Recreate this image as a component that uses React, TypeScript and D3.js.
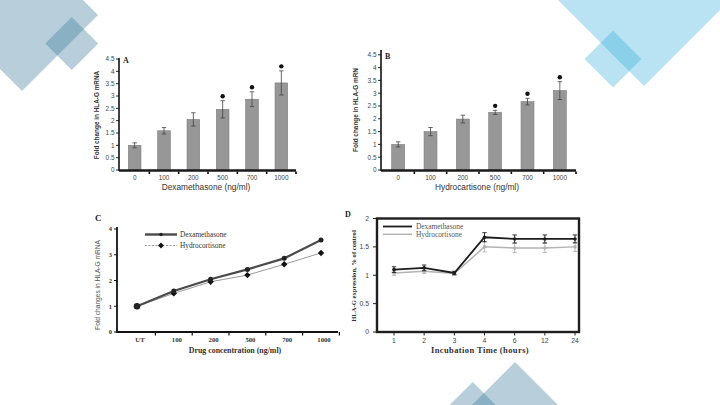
import * as d3 from "d3";
import { useEffect, useRef } from "react";

// Panels A & B: fold change of HLA-G mRNA per dose
const doses = ["0", "100", "200", "500", "700", "1000"];
const dexaFold = [1.0, 1.59, 2.05, 2.46, 2.87, 3.53];
const dexaFoldErr = [0.1, 0.13, 0.27, 0.35, 0.3, 0.49];
const dexaSignif = [false, false, false, true, true, true];
const hydroFold = [1.0, 1.5, 1.99, 2.25, 2.67, 3.1];
const hydroFoldErr = [0.1, 0.16, 0.15, 0.08, 0.13, 0.35];
const hydroSignif = [false, false, false, true, true, true];
const foldTicks = [0, 0.5, 1, 1.5, 2, 2.5, 3, 3.5, 4, 4.5];

// Panel C: both drugs on one line chart
const concLabels = ["UT", "100", "200", "500", "700", "1000"];
const dexaLine = [1.0, 1.59, 2.05, 2.43, 2.86, 3.57];
const hydroLine = [1.0, 1.5, 1.95, 2.21, 2.63, 3.07];
const concTicks = [0, 1, 2, 3, 4];

// Panel D: expression over incubation time
const hours = ["1", "2", "3", "4", "6", "12", "24"];
const dexaTime = [1.1, 1.13, 1.04, 1.67, 1.64, 1.64, 1.64];
const dexaTimeErr = [0.05, 0.05, 0.03, 0.08, 0.07, 0.07, 0.07];
const hydroTime = [1.04, 1.07, 1.03, 1.5, 1.48, 1.48, 1.5];
const hydroTimeErr = [0.04, 0.04, 0.03, 0.09, 0.08, 0.08, 0.08];
const timeTicks = [0, 0.5, 1, 1.5, 2];

const SANS = "'Liberation Sans', Arial, sans-serif";
const SERIF = "'Liberation Serif', 'Times New Roman', serif";

const diamond = (cx: number, cy: number, r: number) =>
    `M${cx},${cy - r}L${cx + r},${cy}L${cx},${cy + r}L${cx - r},${cy}Z`;

function barPanel(svg: any, o: any) {
    const x = d3
        .scaleBand()
        .domain(doses)
        .range([o.x0, o.x1])
        .paddingInner(o.pad)
        .paddingOuter(o.pad / 2);
    const y = d3.scaleLinear().domain([0, 4.5]).range([o.base, o.top]);
    const axisX = o.x0 - 1;
    const g = svg.append("g");

    // bars
    g.selectAll(".bar")
        .data(o.values)
        .enter()
        .append("rect")
        .attr("x", (_: any, i: number) => x(doses[i]))
        .attr("y", (d: number) => y(d))
        .attr("width", x.bandwidth())
        .attr("height", (d: number) => y(0) - y(d))
        .attr("fill", "#979797")
        .attr("stroke", "#7c7c7c")
        .attr("stroke-width", 0.6);

    // error bars + significance marks
    o.values.forEach((v: number, i: number) => {
        const cx = (x(doses[i]) || 0) + x.bandwidth() / 2;
        const e = o.errs[i];
        g.append("line")
            .attr("x1", cx).attr("x2", cx)
            .attr("y1", y(v - e)).attr("y2", y(v + e))
            .attr("stroke", "#444").attr("stroke-width", 0.8);
        [v - e, v + e].forEach(t => {
            g.append("line")
                .attr("x1", cx - 2.2).attr("x2", cx + 2.2)
                .attr("y1", y(t)).attr("y2", y(t))
                .attr("stroke", "#444").attr("stroke-width", 0.8);
        });
        if (o.signif[i]) {
            g.append("circle")
                .attr("cx", cx)
                .attr("cy", y(v + e) - 4.5)
                .attr("r", 2.2)
                .attr("fill", "#111");
        }
    });

    // y axis
    g.append("line")
        .attr("x1", axisX).attr("x2", axisX)
        .attr("y1", o.base + 1).attr("y2", o.axisTop)
        .attr("stroke", "#111").attr("stroke-width", 1.6);
    foldTicks.forEach(t => {
        g.append("line")
            .attr("x1", axisX - 3).attr("x2", axisX)
            .attr("y1", y(t)).attr("y2", y(t))
            .attr("stroke", "#111").attr("stroke-width", 0.9);
        g.append("text")
            .attr("x", axisX - 4.5)
            .attr("y", y(t) + 2.3)
            .attr("text-anchor", "end")
            .style("font", `6.4px ${SANS}`)
            .attr("fill", "#444")
            .text(d3.format("")(t));
    });

    // x axis
    g.append("line")
        .attr("x1", axisX).attr("x2", o.x1)
        .attr("y1", o.base + 0.5).attr("y2", o.base + 0.5)
        .attr("stroke", "#1a1a1a").attr("stroke-width", 2.4);
    const step = x.step();
    doses.forEach((d, i) => {
        g.append("rect")
            .attr("x", o.x0 + (i + 1) * step - 0.8)
            .attr("y", o.base + 1.5)
            .attr("width", 1.6)
            .attr("height", 2.5)
            .attr("fill", "#111");
        g.append("text")
            .attr("x", (x(d) || 0) + x.bandwidth() / 2)
            .attr("y", o.base + 9.5)
            .attr("text-anchor", "middle")
            .style("font", `6.4px ${SANS}`)
            .attr("fill", "#444")
            .text(d);
    });

    g.append("text")
        .attr("x", (o.x0 + o.x1) / 2 - 2)
        .attr("y", o.base + 20)
        .attr("text-anchor", "middle")
        .style("font", `8.3px ${SANS}`)
        .attr("fill", "#333")
        .text(o.xLabel);

    g.append("text")
        .attr("transform", `translate(${o.yLabelX},${o.yLabelY}) rotate(-90)`)
        .attr("text-anchor", "middle")
        .style("font", `bold 6.4px ${SANS}`)
        .attr("fill", "#333")
        .text(o.yLabel);

    g.append("text")
        .attr("x", axisX + 4)
        .attr("y", o.top + 4)
        .style("font", `bold 8px ${SERIF}`)
        .attr("fill", "#222")
        .text(o.letter);
}

function linePanel(svg: any) {
    const x = d3.scalePoint().domain(concLabels).range([137, 321]);
    const y = d3.scaleLinear().domain([0, 4]).range([332, 229]);
    const g = svg.append("g");
    const axisX = 117;

    g.append("line")
        .attr("x1", axisX).attr("x2", axisX).attr("y1", 333).attr("y2", 227)
        .attr("stroke", "#111").attr("stroke-width", 1.8);
    g.append("line")
        .attr("x1", axisX).attr("x2", 338).attr("y1", 332).attr("y2", 332)
        .attr("stroke", "#111").attr("stroke-width", 1.8);

    concTicks.forEach(t => {
        g.append("line")
            .attr("x1", axisX - 3).attr("x2", axisX)
            .attr("y1", y(t)).attr("y2", y(t))
            .attr("stroke", "#111").attr("stroke-width", 1);
        g.append("text")
            .attr("x", axisX - 5)
            .attr("y", y(t) + 2.3)
            .attr("text-anchor", "end")
            .style("font", `bold 6.5px ${SERIF}`)
            .attr("fill", "#333")
            .text(t);
    });
    const step = x.step();
    concLabels.forEach(c => {
        const px = x(c) || 0;
        g.append("line")
            .attr("x1", px + step / 2).attr("x2", px + step / 2)
            .attr("y1", 332).attr("y2", 335.5)
            .attr("stroke", "#111").attr("stroke-width", 1.2);
        g.append("text")
            .attr("x", px + 3)
            .attr("y", 342)
            .attr("text-anchor", "middle")
            .style("font", `bold 6.7px ${SERIF}`)
            .attr("fill", "#333")
            .text(c);
    });

    const line = d3
        .line<number>()
        .x((_, i) => x(concLabels[i]) || 0)
        .y(d => y(d));

    g.append("path")
        .attr("d", line(hydroLine))
        .attr("fill", "none")
        .attr("stroke", "#9a9a9a")
        .attr("stroke-width", 1);
    g.append("path")
        .attr("d", line(dexaLine))
        .attr("fill", "none")
        .attr("stroke", "#4a4a4a")
        .attr("stroke-width", 2.2);

    hydroLine.forEach((v, i) => {
        const px = x(concLabels[i]) || 0;
        g.append("path")
            .attr("d", diamond(px, y(v), 3.2))
            .attr("fill", "#111");
    });
    dexaLine.forEach((v, i) => {
        g.append("circle")
            .attr("cx", x(concLabels[i]) || 0)
            .attr("cy", y(v))
            .attr("r", i === 0 ? 3.3 : 2.5)
            .attr("fill", "#222");
    });

    // legend
    g.append("line")
        .attr("x1", 145).attr("x2", 177).attr("y1", 234.5).attr("y2", 234.5)
        .attr("stroke", "#4a4a4a").attr("stroke-width", 2.4);
    g.append("circle").attr("cx", 161).attr("cy", 234.5).attr("r", 1.8).attr("fill", "#222");
    g.append("line")
        .attr("x1", 145).attr("x2", 177).attr("y1", 245.5).attr("y2", 245.5)
        .attr("stroke", "#999").attr("stroke-width", 1)
        .attr("stroke-dasharray", "2,1.5");
    g.append("path").attr("d", diamond(161, 245.5, 3)).attr("fill", "#111");
    [["Dexamethasone", 237], ["Hydrocortisone", 248]].forEach(([t, ty]) => {
        g.append("text")
            .attr("x", 180)
            .attr("y", ty)
            .style("font", `7.3px ${SERIF}`)
            .attr("fill", "#333")
            .text(t);
    });

    g.append("text")
        .attr("transform", "translate(100,285) rotate(-90)")
        .attr("text-anchor", "middle")
        .style("font", `6.6px ${SANS}`)
        .attr("fill", "#555")
        .text("Fold changes in HLA-G mRNA");
    g.append("text")
        .attr("x", 235)
        .attr("y", 353)
        .attr("text-anchor", "middle")
        .style("font", `bold 7.9px ${SERIF}`)
        .attr("fill", "#333")
        .text("Drug concentration (ng/ml)");
    g.append("text")
        .attr("x", 95)
        .attr("y", 221)
        .style("font", `bold 9px ${SERIF}`)
        .attr("fill", "#222")
        .text("C");
}

function timePanel(svg: any) {
    const x = d3.scalePoint().domain(hours).range([394, 575]);
    const y = d3.scaleLinear().domain([0, 2]).range([332, 218.5]);
    const g = svg.append("g");

    timeTicks.forEach(t => {
        g.append("line")
            .attr("x1", 373).attr("x2", 377)
            .attr("y1", y(t)).attr("y2", y(t))
            .attr("stroke", "#222").attr("stroke-width", 1);
        g.append("text")
            .attr("x", 369)
            .attr("y", y(t) + 2.4)
            .attr("text-anchor", "end")
            .style("font", `6.8px ${SANS}`)
            .attr("fill", "#444")
            .text(d3.format("")(t));
    });
    hours.forEach(h => {
        const px = x(h) || 0;
        g.append("line")
            .attr("x1", px).attr("x2", px).attr("y1", 332).attr("y2", 335.5)
            .attr("stroke", "#222").attr("stroke-width", 1);
        g.append("text")
            .attr("x", px)
            .attr("y", 342.5)
            .attr("text-anchor", "middle")
            .style("font", `6.8px ${SANS}`)
            .attr("fill", "#444")
            .text(h);
    });

    const line = d3
        .line<number>()
        .x((_, i) => x(hours[i]) || 0)
        .y(d => y(d));

    const series = [
        { vals: hydroTime, errs: hydroTimeErr, color: "#b3b3b3", w: 1.5 },
        { vals: dexaTime, errs: dexaTimeErr, color: "#1c1c1c", w: 1.8 },
    ];
    series.forEach(s => {
        g.append("path")
            .attr("d", line(s.vals))
            .attr("fill", "none")
            .attr("stroke", s.color)
            .attr("stroke-width", s.w);
        s.vals.forEach((v, i) => {
            const px = x(hours[i]) || 0;
            g.append("line")
                .attr("x1", px).attr("x2", px)
                .attr("y1", y(v - s.errs[i])).attr("y2", y(v + s.errs[i]))
                .attr("stroke", s.color).attr("stroke-width", 0.9);
            [v - s.errs[i], v + s.errs[i]].forEach(t => {
                g.append("line")
                    .attr("x1", px - 2.2).attr("x2", px + 2.2)
                    .attr("y1", y(t)).attr("y2", y(t))
                    .attr("stroke", s.color).attr("stroke-width", 0.9);
            });
            g.append("circle")
                .attr("cx", px)
                .attr("cy", y(v))
                .attr("r", 1.8)
                .attr("fill", s.color);
        });
    });

    // frame
    g.append("rect")
        .attr("x", 377).attr("y", 218.5)
        .attr("width", 202).attr("height", 113.5)
        .attr("fill", "none")
        .attr("stroke", "#1e1e1e")
        .attr("stroke-width", 2.4);

    // legend
    g.append("line")
        .attr("x1", 383).attr("x2", 412).attr("y1", 226.5).attr("y2", 226.5)
        .attr("stroke", "#1c1c1c").attr("stroke-width", 1.8);
    g.append("line")
        .attr("x1", 383).attr("x2", 412).attr("y1", 234.3).attr("y2", 234.3)
        .attr("stroke", "#b3b3b3").attr("stroke-width", 1.5);
    [["Dexamethasone", 229], ["Hydrocortisone", 236.8]].forEach(([t, ty]) => {
        g.append("text")
            .attr("x", 416)
            .attr("y", ty)
            .style("font", `7.4px ${SERIF}`)
            .attr("fill", "#555")
            .text(t);
    });

    g.append("text")
        .attr("transform", "translate(356,276) rotate(-90)")
        .attr("text-anchor", "middle")
        .style("font", `bold 6.6px ${SERIF}`)
        .attr("fill", "#333")
        .text("HLA-G expression, % of control");
    g.append("text")
        .attr("x", 480)
        .attr("y", 353)
        .attr("text-anchor", "middle")
        .style("font", `bold 8.5px ${SERIF}`)
        .style("letter-spacing", "0.4px")
        .attr("fill", "#333")
        .text("Incubation Time (hours)");
    g.append("text")
        .attr("x", 345)
        .attr("y", 217)
        .style("font", `bold 8px ${SERIF}`)
        .attr("fill", "#222")
        .text("D");
}

export default function App() {
    const ref = useRef<SVGSVGElement>(null);

    useEffect(() => {
        const svg = d3.select(ref.current);
        svg.selectAll("*").remove();

        svg.append("rect").attr("width", 720).attr("height", 405).attr("fill", "#fff");

        // corner diamonds
        const slate = "rgb(52,118,152)";
        const sky = "#29a9d9";
        [
            { cx: 22, cy: 15, r: 76, fill: slate, op: 0.35 },
            { cx: 71.7, cy: 43.5, r: 26.5, fill: slate, op: 0.35 },
            { cx: 644, cy: -5, r: 91, fill: sky, op: 0.33 },
            { cx: 613, cy: 59, r: 28.5, fill: sky, op: 0.33 },
            { cx: 515, cy: 422, r: 60, fill: slate, op: 0.35 },
            { cx: 472.7, cy: 422, r: 40, fill: slate, op: 0.35 },
        ].forEach(d => {
            svg.append("path")
                .attr("d", diamond(d.cx, d.cy, d.r))
                .attr("fill", d.fill)
                .attr("fill-opacity", d.op);
        });

        barPanel(svg, {
            values: dexaFold, errs: dexaFoldErr, signif: dexaSignif,
            x0: 120, x1: 296, pad: 0.57, base: 170, top: 59, axisTop: 58,
            xLabel: "Dexamethasone (ng/ml)",
            yLabel: "Fold change in HLA-G mRNA", yLabelX: 99, yLabelY: 115,
            letter: "A",
        });
        barPanel(svg, {
            values: hydroFold, errs: hydroFoldErr, signif: hydroSignif,
            x0: 382, x1: 576, pad: 0.6, base: 170, top: 54.8, axisTop: 50,
            xLabel: "Hydrocartisone (ng/ml)",
            yLabel: "Fold change in HLA-G mRN", yLabelX: 358, yLabelY: 110,
            letter: "B",
        });
        linePanel(svg);
        timePanel(svg);
    }, []);

    return (
        <div style={{ position: "absolute", left: 0, top: 0 }}>
            <svg ref={ref} width={720} height={405} style={{ display: "block" }} />
        </div>
    );
}
